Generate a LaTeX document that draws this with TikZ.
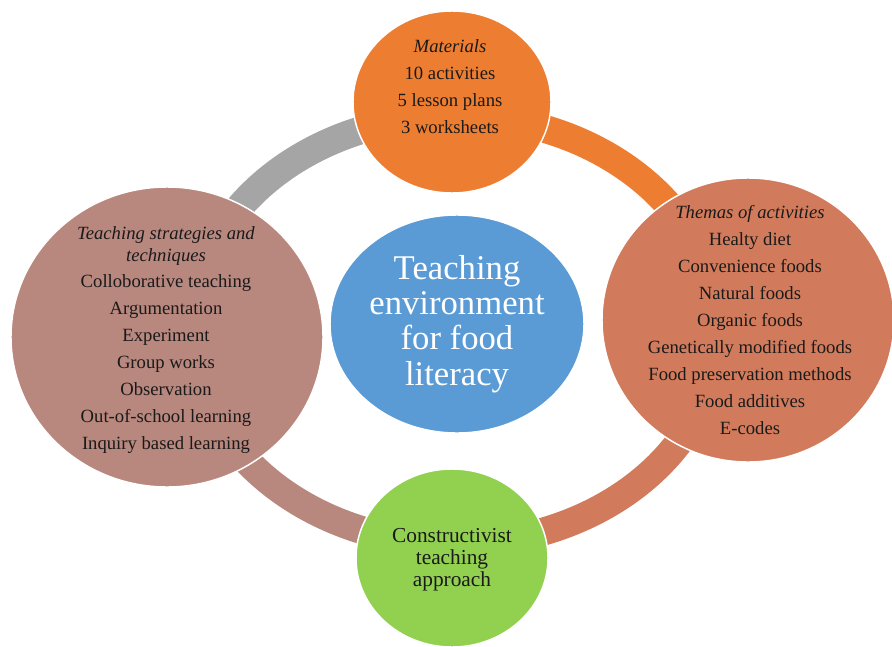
\documentclass[tikz,border=0pt]{standalone}
\usepackage{fontspec}
\setmainfont{Liberation Serif}
\usetikzlibrary{shapes.geometric}
\definecolor{cOrange}{HTML}{ED7D31}
\definecolor{cCoral}{HTML}{D17B5C}
\definecolor{cRose}{HTML}{B8877E}
\definecolor{cGray}{HTML}{A5A5A5}
\definecolor{cBlue}{HTML}{5B9BD5}
\definecolor{cGreen}{HTML}{92D050}
\definecolor{cText}{HTML}{1A1A1A}
\tikzset{
  blob/.style={ellipse, draw=white, line width=1.1pt, inner sep=0pt, outer sep=0pt},
  ringarc/.style={line width=21pt, line cap=butt},
  body/.style={align=center, text=cText, font=\fontsize{14}{20.25}\selectfont, inner sep=0pt},
}
\begin{document}
\begin{tikzpicture}[x=0.75pt, y=-0.75pt]
\useasboundingbox (0,0) rectangle (892,646);
% ring segments
\draw[ringarc, cGray]   plot[domain=180:270, samples=60, smooth] ({455+263*cos(\x)}, {330+214*sin(\x)});
\draw[ringarc, cOrange] plot[domain=-90:0, samples=60, smooth] ({455+263*cos(\x)}, {330+214*sin(\x)});
\draw[ringarc, cCoral]  plot[domain=0:90, samples=60, smooth] ({455+263*cos(\x)}, {330+214*sin(\x)});
\draw[ringarc, cRose]   plot[domain=90:180, samples=60, smooth] ({455+263*cos(\x)}, {330+214*sin(\x)});
% circles
\node[blob, fill=cOrange, minimum width=148.5pt, minimum height=136.5pt] (mat) at (452,102) {};
\node[blob, fill=cCoral, minimum width=219pt, minimum height=213pt] (them) at (748,320) {};
\node[blob, fill=cRose, minimum width=234pt, minimum height=225pt] (strat) at (167,337) {};
\node[blob, fill=cGreen, minimum width=144pt, minimum height=133.5pt] (cons) at (452,558) {};
\node[blob, fill=cBlue, minimum width=190.5pt, minimum height=163.5pt] (env) at (457,324) {};
% texts
\node[body] (matT) at (450,87) {\textit{Materials}\\10 activities\\5 lesson plans\\3 worksheets};
\node[body] (themT) at (750,320) {\textit{Themas of activities}\\Healty diet\\Convenience foods\\Natural foods\\Organic foods\\Genetically modified foods\\Food preservation methods\\Food additives\\E-codes};
\node[body] (stratT) at (166,340) {\textit{Teaching strategies and}\\[-3.75pt]\textit{techniques}\\[-0.75pt]Colloborative teaching\\Argumentation\\Experiment\\Group works\\Observation\\Out-of-school learning\\Inquiry based learning};
\node[body, font=\fontsize{16}{16.5}\selectfont] (consT) at (452,560) {Constructivist\\teaching\\approach};
\node[align=center, text=white, inner sep=0pt, font=\fontsize{26}{26.5}\selectfont] (envT) at (457,324) {Teaching\\environment\\for food\\literacy};
\end{tikzpicture}
\end{document}
